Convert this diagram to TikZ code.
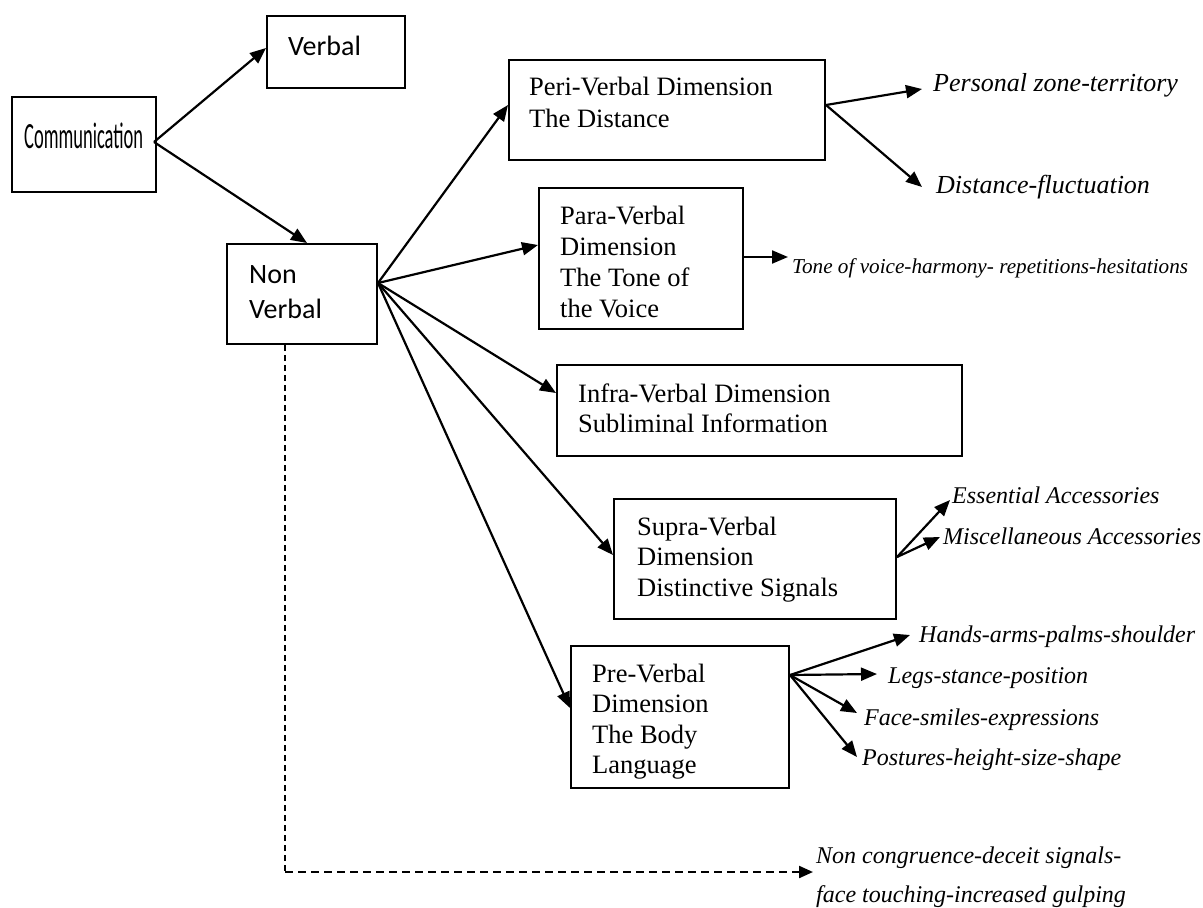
\documentclass[tikz,border=0pt]{standalone}
\usepackage{fontspec}
\setmainfont{Liberation Serif}
\newfontfamily\calib{Carlito}
\newfontfamily\condfont[FakeStretch=0.5]{Carlito}
\usetikzlibrary{arrows.meta,calc}
\newcommand\mlines[1]{\begin{tabular}[t]{@{}l@{}}#1\end{tabular}}
\tikzset{
  box/.style={draw, line width=2pt, rectangle, inner sep=0pt},
  txt/.style={inner sep=0pt, anchor=base west, text height=0pt, text depth=0pt},
  boxtxt/.style={txt, font=\fontsize{26.5}{31}\selectfont},
  lab/.style={txt, font=\itshape\fontsize{24}{39}\selectfont},
  biglab/.style={txt, font=\itshape\fontsize{26}{31}\selectfont},
  arr/.style={line width=2.2pt, -{Triangle[length=16pt,width=13pt]}},
}
\begin{document}
\begin{tikzpicture}[x=1pt,y=-1pt]
\useasboundingbox (0,0) rectangle (1203,908);
% boxes
\node[box, minimum width=144pt, minimum height=95pt] (comm) at (84,144.5) {};
\node[box, minimum width=138pt, minimum height=72pt] (verbal) at (336,52) {};
\node[box, minimum width=150pt, minimum height=100pt] (nonverbal) at (302,294) {};
\node[box, minimum width=316pt, minimum height=100pt] (peri) at (667,110) {};
\node[box, minimum width=204pt, minimum height=141pt] (para) at (641,258.5) {};
\node[box, minimum width=405pt, minimum height=91pt] (infra) at (759.5,410.5) {};
\node[box, minimum width=282pt, minimum height=120pt] (supra) at (755,559) {};
\node[box, minimum width=218pt, minimum height=142pt] (pre) at (680,717) {};
% box texts
\node[txt, font=\condfont\fontsize{37}{40}\selectfont] (commtxt) at (24,148) {Communication};
\node[txt, font=\calib\fontsize{28}{35}\selectfont] (verbaltxt) at (288,55) {Verbal};
\node[txt, font=\calib\fontsize{28}{35}\selectfont] (nonverbaltxt) at (249,283) {\mlines{Non\\Verbal}};
\node[boxtxt, font=\fontsize{26.5}{32}\selectfont] (peritxt) at (529,95) {\mlines{Peri-Verbal Dimension\\The Distance}};
\node[boxtxt] (paratxt) at (560,224) {\mlines{Para-Verbal\\Dimension\\The Tone of\\the Voice}};
\node[boxtxt, font=\fontsize{26.5}{30}\selectfont] (infratxt) at (578,402) {\mlines{Infra-Verbal Dimension\\Subliminal Information}};
\node[boxtxt, font=\fontsize{26.5}{30.5}\selectfont] (supratxt) at (637,535) {\mlines{Supra-Verbal\\Dimension\\Distinctive Signals}};
\node[boxtxt, font=\fontsize{26.5}{30.5}\selectfont] (pretxt) at (592,682) {\mlines{Pre-Verbal\\Dimension\\The Body\\Language}};
% labels
\node[biglab] (personal) at (933,91) {Personal zone-territory};
\node[biglab] (distance) at (936,193) {Distance-fluctuation};
\node[txt, font=\itshape\fontsize{21.2}{25}\selectfont] (tone) at (792,273) {Tone of voice-harmony- repetitions-hesitations};
\node[lab] (essential) at (952,503) {Essential Accessories};
\node[lab] (misc) at (943,544) {Miscellaneous Accessories};
\node[lab] (hands) at (919,642) {Hands-arms-palms-shoulder};
\node[lab] (legs) at (888,683) {Legs-stance-position};
\node[lab] (face) at (864,725) {Face-smiles-expressions};
\node[lab] (postures) at (862,765) {Postures-height-size-shape};
\node[lab] (noncong) at (816,863) {\mlines{Non congruence-deceit signals-\\face touching-increased gulping}};
% origins
\coordinate (co) at ([xshift=-3pt,yshift=2.5pt]comm.east);
\coordinate (nvo) at ([yshift=11pt]nonverbal.east);
\coordinate (perio) at ([yshift=5pt]peri.east);
\coordinate (parao) at ([yshift=1.5pt]para.east);
\coordinate (suprao) at ([yshift=2pt]supra.east);
\coordinate (preo) at ([yshift=42pt]pre.east);
\coordinate (corner) at (285,872);
% connectors
\draw[arr] (co) -- ([yshift=4pt]verbal.west);
\draw[arr] (co) -- ([xshift=5pt]nonverbal.north);
\draw[arr] (nvo) -- ([yshift=5pt]peri.west);
\draw[arr] (nvo) -- ([yshift=13.5pt]para.west);
\draw[arr] (nvo) -- ([yshift=17.5pt]infra.west);
\draw[arr] (nvo) -- ([yshift=4pt]supra.west);
\draw[arr] (nvo) -- ([yshift=9pt]pre.west);
\draw[arr] (perio) -- ([xshift=-11pt,yshift=2pt]personal.west);
\draw[arr] (perio) -- ([xshift=-14pt,yshift=6pt]distance.west);
\draw[arr] (parao) -- ([xshift=-4pt,yshift=16pt]tone.west);
\draw[arr] (suprao) -- ([xshift=-2pt,yshift=3pt]essential.west);
\draw[arr] (suprao) -- ([xshift=-3pt,yshift=7pt]misc.west);
\draw[arr] (preo) -- ([xshift=-9pt,yshift=7pt]hands.west);
\draw[arr] (preo) -- ([xshift=-11pt,yshift=9pt]legs.west);
\draw[arr] (preo) -- ([xshift=-7pt,yshift=12pt]face.west);
\draw[arr] (preo) -- ([xshift=-5pt,yshift=8pt]postures.west);
\draw[line width=1.2pt, dash pattern=on 6pt off 4pt] ([xshift=-17pt]nonverbal.south) -- (corner);
\draw[line width=2.2pt, dash pattern=on 8pt off 5pt, -{Triangle[length=14pt,width=12pt,sep=0pt]}] (corner) -- ([xshift=-3pt,yshift=-9pt]noncong.west);
\end{tikzpicture}
\end{document}
